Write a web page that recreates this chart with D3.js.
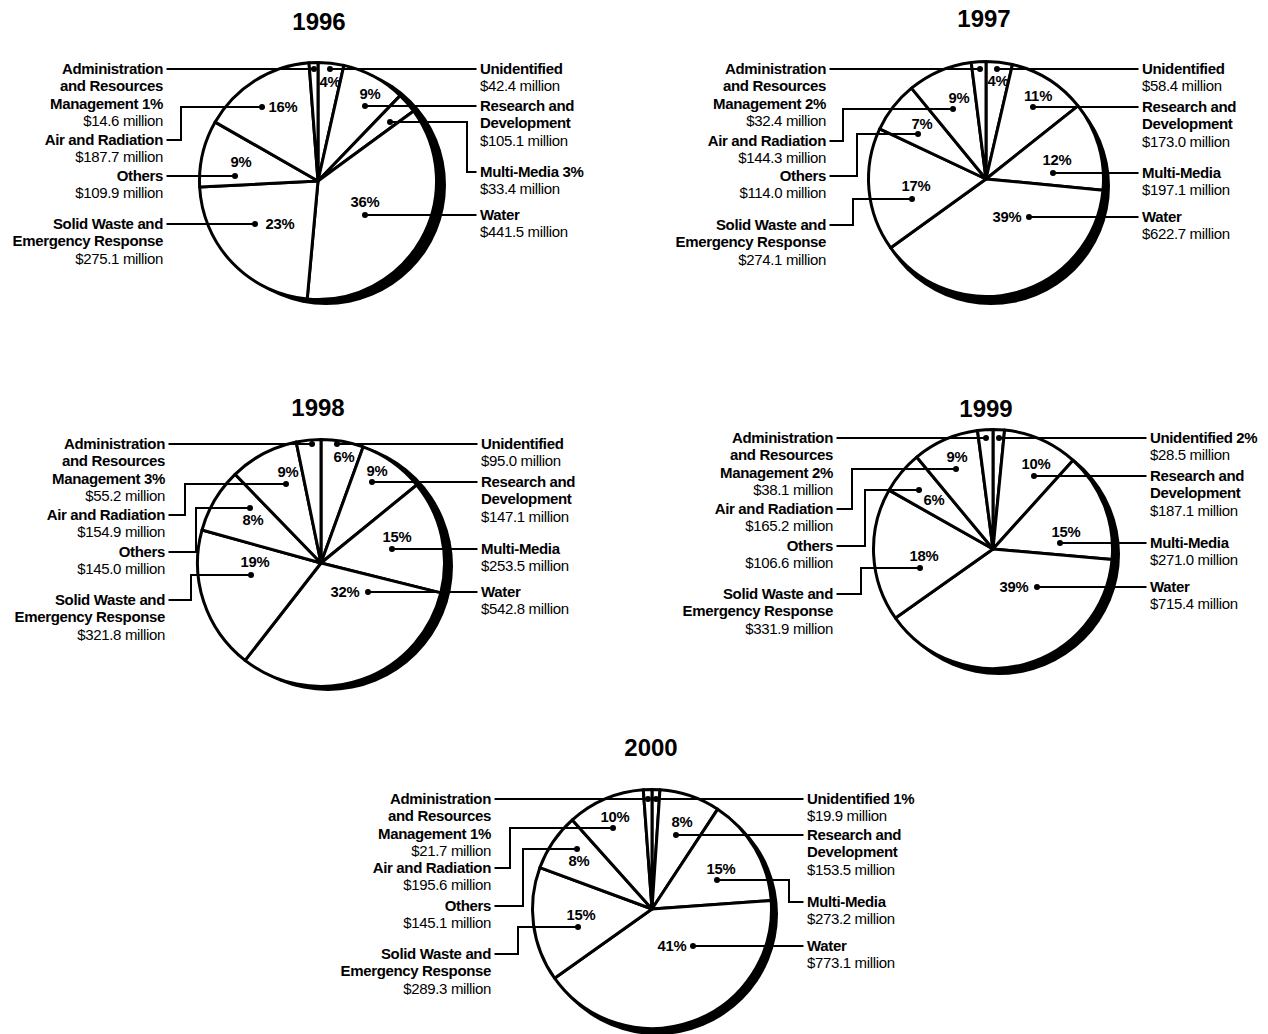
<!DOCTYPE html>
<html>
<head>
<meta charset="utf-8">
<script src="https://cdn.jsdelivr.net/npm/d3@7"></script>
<style>
  html, body { margin: 0; padding: 0; background: #fff; }
  svg { display: block; }
  text { font-family: "Liberation Sans", Arial, Helvetica, sans-serif; fill: #000; }
</style>
</head>
<body>
<svg id="chart" width="1268" height="1034"></svg>
<script>
// Spending by program area, $ million, one pie per fiscal year.
const categories = [
  "Unidentified",
  "Research and Development",
  "Multi-Media",
  "Water",
  "Solid Waste and Emergency Response",
  "Others",
  "Air and Radiation",
  "Administration and Resources Management"
];
const years = ["1996", "1997", "1998", "1999", "2000"];
const values1996 = [42.4, 105.1, 33.4, 441.5, 275.1, 109.9, 187.7, 14.6];
const values1997 = [58.4, 173.0, 197.1, 622.7, 274.1, 114.0, 144.3, 32.4];
const values1998 = [95.0, 147.1, 253.5, 542.8, 321.8, 145.0, 154.9, 55.2];
const values1999 = [28.5, 187.1, 271.0, 715.4, 331.9, 106.6, 165.2, 38.1];
const values2000 = [19.9, 153.5, 273.2, 773.1, 289.3, 145.1, 195.6, 21.7];

// Label text lines for each category (the last line may take the share).
const nameLines = [
  ["Unidentified"],
  ["Research and", "Development"],
  ["Multi-Media"],
  ["Water"],
  ["Solid Waste and", "Emergency Response"],
  ["Others"],
  ["Air and Radiation"],
  ["Administration", "and Resources", "Management"]
];
// Categories whose share is printed in the label rather than in the slice.
const shareInName1996 = ["Multi-Media", "Administration and Resources Management"];
const shareInName1997 = ["Administration and Resources Management"];
const shareInName1998 = ["Administration and Resources Management"];
const shareInName1999 = ["Unidentified", "Administration and Resources Management"];
const shareInName2000 = ["Unidentified", "Administration and Resources Management"];

const valuesByYear = {
  "1996": values1996, "1997": values1997, "1998": values1998,
  "1999": values1999, "2000": values2000
};
const shareInNameByYear = {
  "1996": shareInName1996, "1997": shareInName1997, "1998": shareInName1998,
  "1999": shareInName1999, "2000": shareInName2000
};
const leftSide = new Set([
  "Solid Waste and Emergency Response", "Others",
  "Air and Radiation", "Administration and Resources Management"
]);

// Page layout: pie placement, label columns and callout anchors
// (listed in the same order as `categories`).
const layout = {
  "1996": { cx: 318, cy: 181, r: 120, shadow: [8, 4], title: [319, 21], left: 163, right: 480,
    callouts: [
      { y: 69,  dot: [330, 69],  pct: [0, 13] },
      { y: 106, dot: [365, 106], pct: [5, -12] },
      { y: 172, dot: [390, 122], elbow: 467 },
      { y: 215, dot: [365, 215], pct: [0, -13] },
      { y: 224, dot: [255, 224], pct: [25, 0] },
      { y: 176, dot: [235, 176], pct: [6, -14] },
      { y: 140, dot: [262, 107], elbow: 181, pct: [21, 0] },
      { y: 69,  dot: [314, 69] }
    ] },
  "1997": { cx: 986, cy: 179, r: 119, shadow: [5, 7], title: [984, 18], left: 826, right: 1142,
    callouts: [
      { y: 69,  dot: [997, 69],   pct: [1, 12] },
      { y: 107, dot: [1033, 107], pct: [5, -11] },
      { y: 173, dot: [1053, 173], pct: [4, -13] },
      { y: 217, dot: [1029, 217], pct: [-22, 0] },
      { y: 225, dot: [912, 199],  elbow: 853, pct: [4, -13] },
      { y: 176, dot: [918, 134],  elbow: 857, pct: [4, -10] },
      { y: 141, dot: [953, 109],  elbow: 843, pct: [6, -11] },
      { y: 69,  dot: [980, 69] }
    ] },
  "1998": { cx: 321, cy: 563, r: 125, shadow: [7, 3], title: [318, 407], left: 165, right: 481,
    callouts: [
      { y: 444, dot: [337, 444], pct: [7, 13] },
      { y: 482, dot: [372, 482], pct: [5, -11] },
      { y: 549, dot: [392, 549], pct: [5, -12] },
      { y: 592, dot: [368, 592], pct: [-23, 0] },
      { y: 600, dot: [251, 575], elbow: 191, pct: [4, -13] },
      { y: 552, dot: [250, 508], elbow: 196, pct: [3, 12] },
      { y: 515, dot: [286, 484], elbow: 185, pct: [2, -12] },
      { y: 444, dot: [312, 444] }
    ] },
  "1999": { cx: 993, cy: 549, r: 121, shadow: [6, 5], title: [986, 408], left: 833, right: 1150,
    callouts: [
      { y: 438, dot: [999, 438] },
      { y: 476, dot: [1034, 476], pct: [2, -12] },
      { y: 543, dot: [1060, 543], pct: [6, -11] },
      { y: 587, dot: [1037, 587], pct: [-23, 0] },
      { y: 594, dot: [920, 568],  elbow: 861, pct: [4, -12] },
      { y: 546, dot: [919, 490],  elbow: 865, pct: [15, 10] },
      { y: 509, dot: [956, 469],  elbow: 852, pct: [1, -12] },
      { y: 438, dot: [986, 438] }
    ] },
  "2000": { cx: 652, cy: 909, r: 121, shadow: [5, 5], title: [651, 747], left: 491, right: 807,
    callouts: [
      { y: 799, dot: [656, 799] },
      { y: 835, dot: [676, 835], pct: [6, -13] },
      { y: 902, dot: [717, 880], elbow: 789, pct: [4, -11] },
      { y: 946, dot: [693, 946], pct: [-21, 0] },
      { y: 954, dot: [578, 927], elbow: 518, pct: [3, -12] },
      { y: 906, dot: [577, 849], elbow: 523, pct: [2, 12] },
      { y: 868, dot: [613, 828], elbow: 510, pct: [2, -11] },
      { y: 799, dot: [648, 799] }
    ] }
};

const LINE_H = 17.5;
const svg = d3.select("#chart");
const pct = d3.format(".0%");
const money = d3.format(".1f");

const pie = d3.pie().sort(null).value(d => d.value);

years.forEach(year => {
  const L = layout[year];
  const vals = valuesByYear[year];
  const total = d3.sum(vals);
  const data = categories.map((c, i) => ({ category: c, value: vals[i], i }));
  const arcs = pie(data);
  const g = svg.append("g").attr("class", "year-" + year);

  // Title
  g.append("text")
    .attr("x", L.title[0]).attr("y", L.title[1] + 8.5)
    .attr("text-anchor", "middle")
    .style("font-size", "24px").style("font-weight", "bold")
    .text(year);

  // Heavy rim: a black disc offset down-right behind the pie
  g.append("circle")
    .attr("cx", L.cx + L.shadow[0]).attr("cy", L.cy + L.shadow[1])
    .attr("r", L.r)
    .attr("fill", "#000");

  const arc = d3.arc().innerRadius(0).outerRadius(L.r - 1.5);
  g.append("g")
    .attr("transform", `translate(${L.cx},${L.cy})`)
    .selectAll("path")
    .data(arcs)
    .join("path")
    .attr("d", arc)
    .attr("fill", "#fff")
    .attr("stroke", "#000")
    .attr("stroke-width", 3)
    .attr("stroke-linejoin", "round");

  const shareNames = new Set(shareInNameByYear[year]);

  data.forEach((d, i) => {
    const c = L.callouts[i];
    const isLeft = leftSide.has(d.category);
    const share = pct(d.value / total);
    const [dx, dy] = c.dot;

    // Leader line from the label column to the dot
    const edge = isLeft ? L.left + 3.5 : L.right - 3.5;
    let pts;
    if (c.elbow !== undefined) {
      pts = [[edge, c.y], [c.elbow, c.y], [c.elbow, dy], [dx, dy]];
    } else {
      pts = [[edge, c.y], [dx, c.y]];
    }
    g.append("path")
      .attr("d", d3.line()(pts))
      .attr("fill", "none")
      .attr("stroke", "#000")
      .attr("stroke-width", 2)
      .attr("stroke-linejoin", "miter");

    g.append("circle")
      .attr("cx", dx).attr("cy", dy).attr("r", 3)
      .attr("fill", "#000");

    // Share printed beside the dot
    if (!shareNames.has(d.category) && c.pct) {
      g.append("text")
        .attr("x", dx + c.pct[0]).attr("y", dy + c.pct[1] + 5.3)
        .attr("text-anchor", "middle")
        .style("font-size", "14.8px").style("font-weight", "bold")
        .style("letter-spacing", "-0.2px")
        .text(share);
    }

    // Label block
    const lines = nameLines[i].slice();
    if (shareNames.has(d.category)) {
      lines[lines.length - 1] = lines[lines.length - 1] + " " + share;
    }
    const t = g.append("text")
      .attr("text-anchor", isLeft ? "end" : "start")
      .style("font-size", "15px")
      .style("letter-spacing", "-0.35px");
    const tx = isLeft ? L.left : L.right;
    lines.forEach((ln, k) => {
      t.append("tspan")
        .attr("x", tx).attr("y", c.y + 4.7 + k * LINE_H)
        .style("font-weight", "bold")
        .text(ln);
    });
    t.append("tspan")
      .attr("x", tx).attr("y", c.y + 4.7 + lines.length * LINE_H)
      .style("font-weight", "normal")
      .text("$" + money(d.value) + " million");
  });
});
</script>
</body>
</html>
